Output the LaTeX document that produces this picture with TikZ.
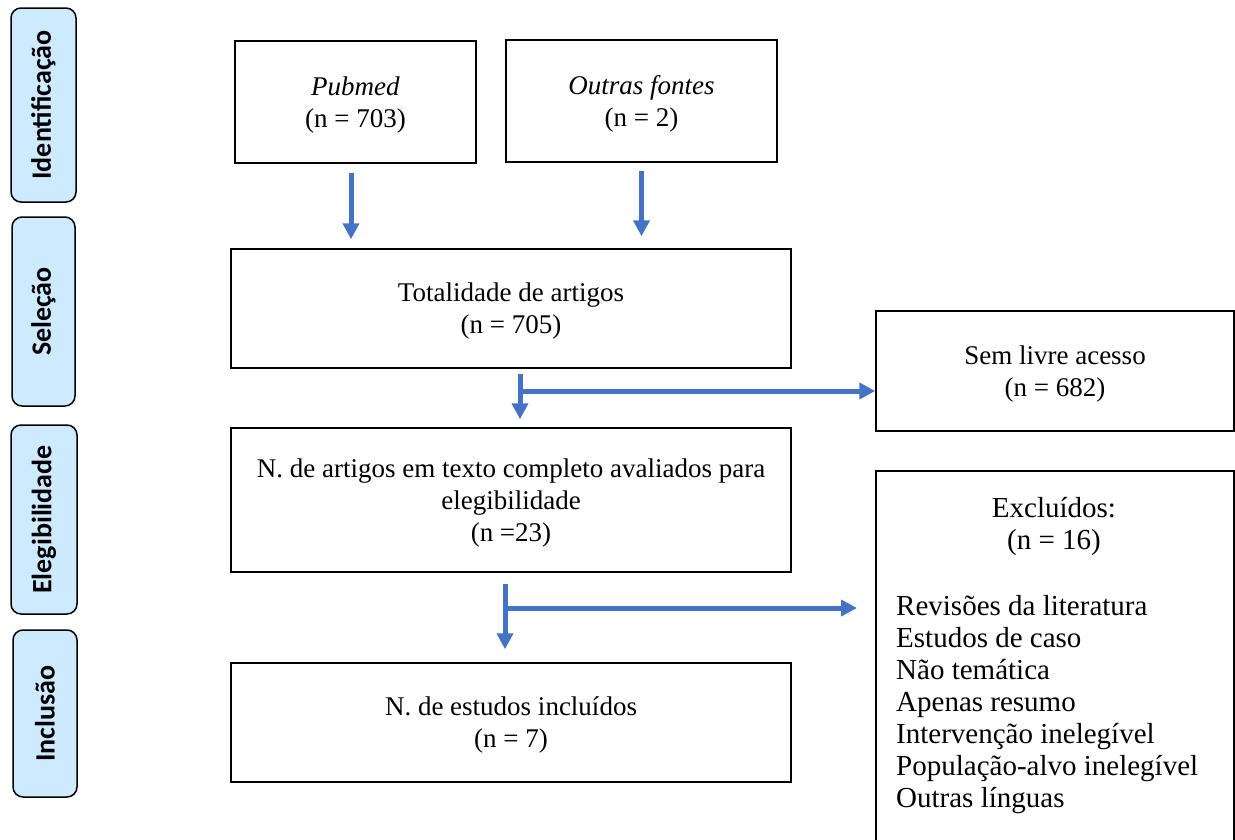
\documentclass[tikz,border=0pt]{standalone}
\usepackage{fontspec}
\setmainfont{Liberation Serif}
\newfontfamily\phasefont{Carlito}
\usetikzlibrary{arrows.meta}
\definecolor{arrblue}{RGB}{68,114,196}
\definecolor{phaseblue}{RGB}{206,234,255}

\begin{document}
\begin{tikzpicture}[x=1pt,y=-1pt,
    box/.style={draw,line width=1.5pt,align=center,inner sep=0pt,text depth=-3pt,font=\fontsize{27}{32}\selectfont},
    plain/.style={align=center,inner sep=0pt,font=\fontsize{29}{32}\selectfont},
    phase/.style={draw,line width=1.5pt,fill=phaseblue,rounded corners=10pt,rotate=90,inner sep=0pt,font=\phasefont\bfseries\fontsize{28}{30}\selectfont},
    arr/.style={arrblue,line width=5pt,-{Triangle[width=16pt,length=16pt]}}]
        \useasboundingbox (0,0) rectangle (1235,839);
        % phases on the left
        \node[phase,minimum width=194pt,minimum height=65pt] (ident) at (43.5,105) {Identificação};
        \node[phase,minimum width=189pt,minimum height=63pt] (selec) at (43.5,311.5) {Seleção};
        \node[phase,minimum width=189pt,minimum height=66pt] (eleg) at (44,519.5) {Elegibilidade};
        \node[phase,minimum width=167pt,minimum height=64pt] (incl) at (45,713.5) {Inclusão};
        % flow boxes
        \node[box,minimum width=241pt,minimum height=122pt] (pub) at (355.5,102) {\textit{Pubmed}\\(n = 703)};
        \node[box,minimum width=271pt,minimum height=122pt] (out) at (641.5,101) {\textit{Outras fontes}\\(n = 2)};
        \node[box,minimum width=560pt,minimum height=119pt] (tot) at (511,308.5) {Totalidade de artigos\\ (n = 705)};
        \node[box,minimum width=358pt,minimum height=120pt] (sem) at (1055,371) {Sem livre acesso\\ (n = 682)};
        \node[box,minimum width=560pt,minimum height=144pt] (art) at (511,500) {N. de artigos em texto completo avaliados para\\ elegibilidade\\ (n =23)};
        \node[box,minimum width=560pt,minimum height=119pt] (est) at (511,722.5) {N. de estudos incluídos\\ (n = 7)};
        \node[draw,line width=1.5pt,minimum width=358pt,minimum height=400pt,anchor=north west] (excl) at (875,470) {};
        \node[plain,anchor=north] (excltit) at (1054,497) {Excluídos:\\ (n = 16)};
        \node[plain,align=left,anchor=north west] (exclist) at (896,595) {Revisões da literatura\\ Estudos de caso\\ Não temática\\ Apenas resumo\\ Intervenção inelegível\\ População-alvo inelegível\\ Outras línguas};
        % arrows
        \draw[arr,shorten <=9pt,shorten >=9pt] ([xshift=-4.5pt]pub.south) -- ([xshift=-4.5pt]pub.south |- tot.north);
        \draw[arr,shorten <=8pt,shorten >=12pt] (out.south) -- (out.south |- tot.north);
        \draw[arr,shorten <=5pt,shorten >=8pt] ([xshift=9pt]tot.south) -- ([xshift=9pt]art.north);
        \coordinate (split1) at (520,391);
        \draw[arr] (split1) -- (split1 -| sem.west);
        \draw[arr,shorten <=11pt,shorten >=13pt] ([xshift=-6pt]art.south) -- ([xshift=-6pt]est.north);
        \coordinate (split2) at (505,608);
        \draw[arr,shorten >=18pt] (split2) -- (split2 -| excl.west);
    \end{tikzpicture}
\end{document}
